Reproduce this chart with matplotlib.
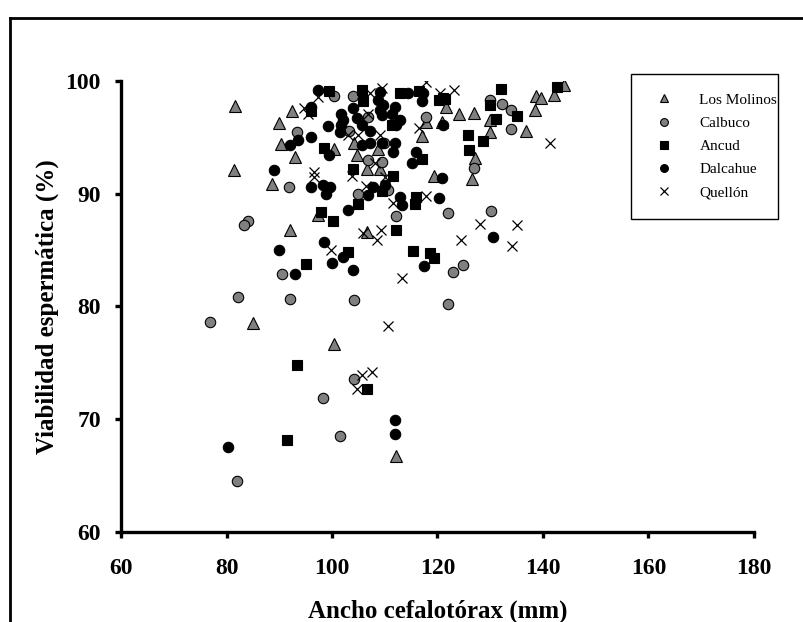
import numpy as np
import matplotlib.pyplot as plt
from matplotlib.lines import Line2D
from matplotlib.patches import Rectangle

plt.rcParams['font.family'] = ['Liberation Serif', 'DejaVu Serif']

# Los Molinos (triangles)
molinos_x = [81.6, 92.4, 90.0, 90.3, 93.0, 81.5, 88.7, 92.0, 85.1, 100.3, 112.1, 97.3,
             106.7, 121.6, 144.0, 142.0, 138.7, 139.6, 138.5, 124.1, 127.0, 130.0, 120.8,
             136.8, 130.0, 127.2, 126.6, 117.8, 117.0, 119.3, 100.4, 104.2, 104.8, 108.8,
             109.1, 106.6]
molinos_y = [97.8, 97.3, 96.3, 94.4, 93.3, 92.1, 90.9, 86.8, 78.5, 76.7, 66.7, 88.1,
             86.6, 97.7, 99.6, 98.8, 98.7, 98.5, 97.4, 97.1, 97.2, 96.5, 96.4,
             95.6, 95.5, 93.2, 91.3, 96.4, 95.1, 91.6, 94.0, 94.5, 93.4, 94.0,
             92.2, 92.2]

# Calbuco (grey circles)
calbuco_x = [93.3, 91.9, 84.1, 83.4, 90.6, 82.1, 92.0, 76.9, 104.2, 98.2, 101.5, 81.9,
             112.1, 121.9, 130.1, 124.9, 122.9, 104.2, 122.0, 130.0, 132.3, 133.9, 134.0,
             126.9, 100.3, 103.9, 106.9, 117.8, 103.2, 109.9, 106.9, 109.4, 104.9, 110.7]
calbuco_y = [95.5, 90.6, 87.6, 87.2, 82.9, 80.8, 80.7, 78.6, 73.6, 71.9, 68.5, 64.5,
             88.0, 88.3, 88.5, 83.7, 83.1, 80.6, 80.2, 98.3, 98.0, 97.4, 95.7,
             92.3, 98.7, 98.7, 96.8, 96.8, 95.6, 94.5, 93.0, 92.8, 90.0, 90.3]

# Ancud (squares)
ancud_x = [93.3, 106.6, 91.4, 98.0, 105.0, 115.7, 100.2, 112.1, 103.0, 115.4, 118.6, 119.4,
           95.0, 121.1, 132.0, 142.7, 130.0, 135.0, 131.1, 125.7, 128.6, 126.0, 99.5,
           105.6, 105.9, 112.8, 116.4, 120.2, 121.4, 96.1, 111.3, 98.5, 103.9, 117.0,
           111.6, 109.4, 116.0]
ancud_y = [74.8, 72.7, 68.2, 88.4, 89.1, 89.1, 87.6, 86.8, 84.8, 84.9, 84.7, 84.3,
           83.8, 98.5, 99.3, 99.5, 97.9, 96.9, 96.6, 95.2, 94.7, 93.9, 99.1,
           99.2, 98.2, 98.9, 99.1, 98.3, 98.4, 97.3, 96.1, 94.1, 92.2, 93.1,
           91.6, 90.2, 89.7]

# Dalcahue (black circles)
dalcahue_x = [92.0, 93.6, 89.0, 90.0, 92.9, 111.9, 111.9, 80.3, 103.0, 113.3, 120.2, 130.5,
              98.5, 102.1, 100.0, 117.5, 104.0, 121.1, 120.8, 97.4, 109.1, 108.8, 109.7,
              109.1, 114.4, 117.3, 117.1, 96.0, 101.8, 102.1, 101.8, 101.5, 104.0, 104.7,
              105.6, 107.2, 109.4, 112.0, 111.4, 112.2, 112.9, 99.2, 96.0, 99.4, 105.6,
              107.2, 109.4, 112.0, 111.6, 115.1, 115.9, 96.1, 98.2, 99.6, 98.9, 107.8,
              106.9, 110.0, 112.9]
dalcahue_y = [94.3, 94.8, 92.1, 85.0, 82.9, 69.9, 68.7, 67.5, 88.6, 89.0, 89.6, 86.2,
              85.7, 84.4, 83.9, 83.6, 83.2, 96.1, 91.4, 99.2, 99.0, 98.3, 97.9,
              97.4, 98.9, 98.9, 98.2, 97.7, 97.1, 96.5, 96.1, 95.5, 97.6, 96.7,
              96.1, 95.6, 97.0, 97.7, 97.1, 96.1, 96.5, 96.0, 95.0, 93.4, 94.3,
              94.5, 94.5, 94.5, 93.7, 92.7, 93.7, 90.6, 90.8, 90.6, 90.0, 90.6,
              89.9, 90.8, 89.7]

# Quellón (crosses)
quellon_x = [110.7, 105.6, 107.5, 104.7, 111.5, 109.3, 105.8, 108.6, 128.1, 135.0, 124.4,
             134.2, 99.9, 113.3, 123.1, 141.3, 97.4, 107.2, 109.4, 117.9, 120.5, 94.6,
             95.5, 106.9, 116.4, 103.1, 105.0, 109.1, 108.2, 103.7, 110.0, 96.5, 96.5,
             106.4, 117.9]
quellon_y = [78.3, 73.9, 74.2, 72.7, 89.2, 86.8, 86.5, 85.9, 87.3, 87.2, 85.9,
             85.4, 85.0, 82.5, 99.2, 94.5, 98.6, 98.9, 99.4, 99.9, 98.9, 97.6,
             97.1, 97.1, 95.8, 95.2, 95.2, 95.2, 92.7, 91.6, 91.5, 91.9, 91.5,
             90.7, 89.8]

fig = plt.figure(figsize=(8.04, 6.22), dpi=100)
ax = fig.add_axes([0.1505, 0.1447, 0.7873, 0.7251])

ax.plot(molinos_x, molinos_y, '^', ms=8.5, mfc='#808080', mec='black', mew=0.8,
        ls='none', label='Los Molinos')
ax.plot(calbuco_x, calbuco_y, 'o', ms=7.5, mfc='#808080', mec='black', mew=0.8,
        ls='none', label='Calbuco')
ax.plot(ancud_x, ancud_y, 's', ms=7, mfc='black', mec='black', mew=0.8,
        ls='none', label='Ancud')
ax.plot(dalcahue_x, dalcahue_y, 'o', ms=7.5, mfc='black', mec='black', mew=0.8,
        ls='none', label='Dalcahue')
ax.plot(quellon_x, quellon_y, 'x', ms=7, mec='black', mew=0.9,
        ls='none', label='Quellón')

ax.set_xlim(60, 180)
ax.set_ylim(60, 100)
ax.set_xticks(np.arange(60, 181, 20))
ax.set_yticks(np.arange(60, 101, 10))

for s in ['top', 'right']:
    ax.spines[s].set_visible(False)
for s in ['left', 'bottom']:
    ax.spines[s].set_linewidth(2.4)

ax.tick_params(direction='out', length=4.5, width=2.4, labelsize=17)
ax.tick_params(axis='y', pad=10)
ax.tick_params(axis='x', pad=14)
for lab in ax.get_xticklabels() + ax.get_yticklabels():
    lab.set_fontweight('bold')

ax.set_xlabel('Ancho cefalotórax (mm)', fontsize=18, fontweight='bold', labelpad=15)
ax.set_ylabel('Viabilidad espermática (%)', fontsize=18, fontweight='bold', labelpad=5)

# legend entries without frame, box drawn separately
leg = fig.legend(loc='upper left', bbox_to_anchor=(649 / 804, 1 - 93 / 622), fontsize=11,
                 frameon=False, markerscale=0.75, handletextpad=1.3, labelspacing=0.62,
                 borderpad=0, borderaxespad=0, handlelength=2.0)
fig.add_artist(Rectangle((631 / 804, 1 - 219 / 622), 147 / 804, 145 / 622,
                         transform=fig.transFigure, fill=False, ec='black', lw=1.0))

# outer frame around chart
fig.add_artist(Line2D([10 / 804, 1.0], [1 - 18 / 622, 1 - 18 / 622], color='black', lw=2))
fig.add_artist(Line2D([10 / 804, 10 / 804], [0.0, 1 - 18 / 622], color='black', lw=2))

fig.savefig('out.png', dpi=100)
